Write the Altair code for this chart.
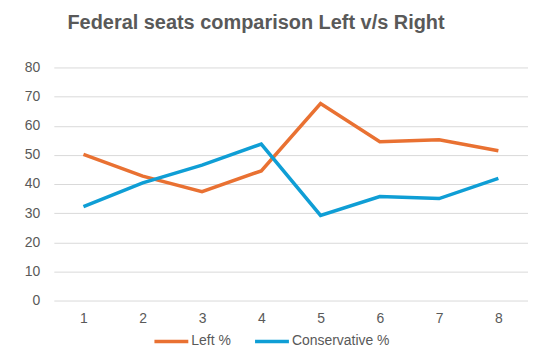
import altair as alt
import pandas as pd

categories = [1, 2, 3, 4, 5, 6, 7, 8]
left_pct = [50.2, 42.7, 37.4, 44.5, 67.6, 54.5, 55.2, 51.4]
conservative_pct = [32.2, 40.4, 46.5, 53.7, 29.2, 35.7, 35.0, 41.9]
series_names = ["Left %", "Conservative %"]
colors = ["#E97132", "#0F9ED5"]

rows = []
for c, l, k in zip(categories, left_pct, conservative_pct):
    rows.append({"cat": str(c), "series": series_names[0], "value": l})
    rows.append({"cat": str(c), "series": series_names[1], "value": k})
df = pd.DataFrame(rows)

font = "Liberation Sans"

chart = alt.Chart(df).mark_line(strokeWidth=3.5).encode(
    x=alt.X("cat:N", sort=[str(c) for c in categories], title=None,
            scale=alt.Scale(paddingInner=0, paddingOuter=0.5),
            axis=alt.Axis(labelAngle=0, domain=False, ticks=False, grid=False,
                          labelPadding=11, labelFontSize=14, labelColor="#595959",
                          labelFont=font)),
    y=alt.Y("value:Q", title=None,
            scale=alt.Scale(domain=[0, 80]),
            axis=alt.Axis(values=[0, 10, 20, 30, 40, 50, 60, 70, 80], domain=False, ticks=False,
                          gridColor="#d9d9d9", gridWidth=1, labelPadding=14,
                          labelFontSize=14, labelColor="#595959", labelFont=font)),
    color=alt.Color("series:N", sort=series_names,
                    scale=alt.Scale(domain=series_names, range=colors),
                    legend=alt.Legend(title=None, orient="none", direction="horizontal",
                                      legendX=99, legendY=256,
                                      symbolType="stroke", symbolSize=1156,
                                      symbolStrokeWidth=3.5, labelOffset=1,
                                      columnPadding=17, labelFontSize=14,
                                      labelColor="#595959", labelFont=font)),
).properties(
    width=476, height=234,
    title=alt.TitleParams("Federal seats comparison Left v/s Right", anchor="middle",
                          dx=-35, fontSize=20, fontWeight="bold", color="#595959",
                          font=font, offset=28),
    autosize=alt.AutoSizeParams(type="none"),
    padding={"left": 46, "top": 59, "right": 0, "bottom": 55},
).configure_view(stroke=None)

chart.save("out.html", embed_options={"renderer": "svg", "actions": False})
